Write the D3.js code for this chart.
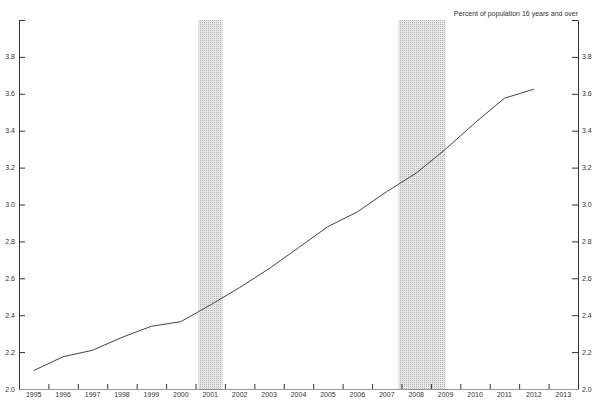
<!DOCTYPE html>
<html>
<head>
  <meta charset="utf-8">
  <title>percent of population</title>
  <script src="https://d3js.org/d3.v7.min.js"></script>
  <style>
    body { margin: 0; background: #fff; }
    text { font-family: "Liberation Sans", Arial, sans-serif; font-size: 7px; fill: #333; }
  </style>
</head>
<body>
<div id="chart"></div>
<script>
// annual values, plotted at mid-year
var years = [1995, 1996, 1997, 1998, 1999, 2000, 2001, 2002, 2003, 2004, 2005, 2006, 2007, 2008, 2009, 2010, 2011, 2012];
var values = [2.10, 2.175, 2.21, 2.28, 2.34, 2.365, 2.455, 2.55, 2.652, 2.766, 2.88, 2.96, 3.07, 3.17, 3.30, 3.443, 3.576, 3.625];

// recessions (fractional years)
var recStart = [2001.1, 2007.9];
var recEnd = [2001.92, 2009.5];

var yTicks = [2.0, 2.2, 2.4, 2.6, 2.8, 3.0, 3.2, 3.4, 3.6, 3.8, 4.0];
var yearLabels = d3.range(1995, 2014);
var title = "Percent of population 16 years and over";

var W = 600, H = 400;
var pLeft = 19, pRight = 578, pTop = 20, pBottom = 389;

var x = d3.scaleLinear().domain([1995, 2014]).range([pLeft, pRight]);
var y = d3.scaleLinear().domain([2.0, 4.0]).range([pBottom, pTop]);

var svg = d3.select("#chart").append("svg")
  .attr("width", W).attr("height", H);

// dotted fill for recession bars
var pat = svg.append("defs").append("pattern")
  .attr("id", "dots").attr("width", 2).attr("height", 2)
  .attr("patternUnits", "userSpaceOnUse");
pat.append("rect").attr("width", 2).attr("height", 2).attr("fill", "#e8e8e8");
pat.append("rect").attr("width", 1).attr("height", 1).attr("fill", "#b4b4b4");

svg.append("g").selectAll("rect")
  .data(recStart)
  .enter().append("rect")
    .attr("x", function(d) { return x(d); })
    .attr("y", pTop)
    .attr("width", function(d, i) { return x(recEnd[i]) - x(d); })
    .attr("height", pBottom - pTop)
    .attr("fill", "url(#dots)");

// left axis, ticks inward
svg.append("g")
  .attr("transform", "translate(" + pLeft + ",0)")
  .call(d3.axisRight(y).tickValues(yTicks).tickSize(6).tickSizeOuter(0).tickFormat(""));
svg.append("g").selectAll("text")
  .data(yTicks.slice(0, -1))
  .enter().append("text")
    .attr("x", pLeft - 4)
    .attr("y", function(d) { return y(d) + 2.5; })
    .attr("text-anchor", "end")
    .text(function(d) { return d.toFixed(1); });

// right axis, ticks inward
svg.append("g")
  .attr("transform", "translate(" + pRight + ",0)")
  .call(d3.axisLeft(y).tickValues(yTicks).tickSize(6).tickSizeOuter(0).tickFormat(""));
svg.append("g").selectAll("text")
  .data(yTicks.slice(0, -1))
  .enter().append("text")
    .attr("x", pRight + 4)
    .attr("y", function(d) { return y(d) + 2.5; })
    .attr("text-anchor", "start")
    .text(function(d) { return d.toFixed(1); });

// bottom axis, ticks upward at year boundaries
svg.append("g")
  .attr("class", "xaxis")
  .attr("transform", "translate(0," + pBottom + ")")
  .call(d3.axisTop(x).tickValues(d3.range(1996, 2014)).tickSize(5).tickSizeOuter(0).tickFormat(""));
svg.append("g").selectAll("text")
  .data(yearLabels)
  .enter().append("text")
    .attr("x", function(d) { return x(d + 0.5); })
    .attr("y", pBottom + 8)
    .attr("text-anchor", "middle")
    .text(function(d) { return d; });

svg.selectAll(".domain").attr("stroke", "#333");
svg.select(".xaxis .domain").attr("stroke", "#999");
svg.selectAll(".tick line").attr("stroke", "#333");

svg.append("text")
  .attr("x", pRight)
  .attr("y", 16)
  .attr("text-anchor", "end")
  .text(title);

var line = d3.line()
  .x(function(d, i) { return x(years[i] + 0.5); })
  .y(function(d) { return y(d); });

svg.append("path")
  .datum(values)
  .attr("fill", "none")
  .attr("stroke", "#444")
  .attr("stroke-width", 1)
  .attr("d", line);
</script>
</body>
</html>
